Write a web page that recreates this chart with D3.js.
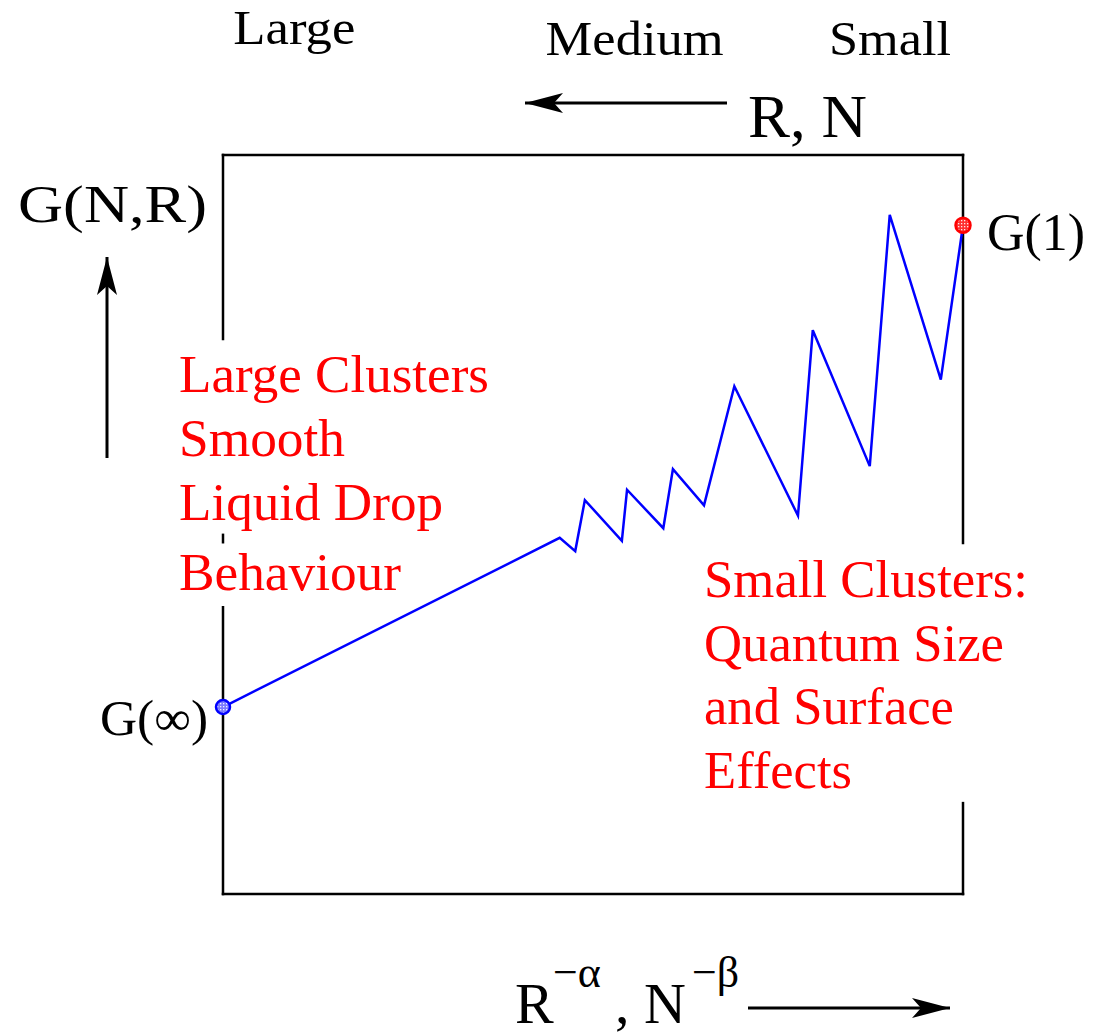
<!DOCTYPE html>
<html>
<head>
<meta charset="utf-8">
<script src="https://cdn.jsdelivr.net/npm/d3@7"></script>
<style>
  html, body { margin: 0; padding: 0; background: #fff; }
  svg { display: block; }
  text { font-family: "Liberation Serif", "Times New Roman", serif; }
</style>
</head>
<body>
<svg id="chart" width="1096" height="1035"></svg>
<script>
// Scaling variable x = R^-alpha / N^-beta (0 = infinite cluster, 100 = single atom)
const sizeX = [0, 45.5, 47.6, 48.9, 53.9, 54.6, 59.5, 60.8, 65.0, 69.1, 77.7, 79.7, 87.4, 90.1, 97.0, 100];
// Property G(N,R) along the size axis
const propG = [25.3, 48.2, 46.4, 53.3, 47.8, 54.7, 49.5, 57.5, 52.6, 68.7, 51.2, 76.3, 57.9, 91.9, 69.6, 90.5];

// Size regime labels on the top
const regimeLabels = ["Large", "Medium", "Small"];
const regimeX = [1.4, 43.6, 81.9];

const largeNotes = ["Large Clusters", "Smooth", "Liquid Drop", "Behaviour"];
const smallNotes = ["Small Clusters:", "Quantum Size", "and Surface", "Effects"];

const svg = d3.select("#chart");
const x = d3.scaleLinear().domain([0, 100]).range([223, 963]);
const y = d3.scaleLinear().domain([0, 100]).range([894, 155]);

// Arrow heads
const defs = svg.append("defs");
defs.append("marker")
  .attr("id", "head")
  .attr("viewBox", "0 0 38 20")
  .attr("refX", 38).attr("refY", 10)
  .attr("markerWidth", 38).attr("markerHeight", 20)
  .attr("markerUnits", "userSpaceOnUse")
  .attr("orient", "auto")
  .append("path")
  .attr("d", "M0,0 L38,10 L0,20 L9,10 Z")
  .attr("fill", "#000");

// Dotted fills for the end-point markers
function dotPattern(id, bg, dot) {
  const p = defs.append("pattern")
    .attr("id", id).attr("patternUnits", "userSpaceOnUse")
    .attr("width", 3).attr("height", 3);
  p.append("rect").attr("width", 3).attr("height", 3).attr("fill", bg);
  p.append("rect").attr("x", 1).attr("y", 1).attr("width", 1.3).attr("height", 1.3).attr("fill", dot);
}
dotPattern("dotsBlue", "#7a7aff", "#f0f0ff");
dotPattern("dotsRed", "#ff3030", "#ffe8e8");

// Frame: left and right sides are broken where the notes sit
const frame = [
  [[0, 100], [100, 100]],
  [[0, 0], [100, 0]],
  [[0, 100], [0, 75.1]],
  [[0, 48.6], [0, 47.6]],
  [[0, 38.8], [0, 0]],
  [[100, 100], [100, 47.5]],
  [[100, 12.3], [100, 0]]
];
svg.append("g").selectAll("line").data(frame).join("line")
  .attr("x1", d => x(d[0][0])).attr("y1", d => y(d[0][1]))
  .attr("x2", d => x(d[1][0])).attr("y2", d => y(d[1][1]))
  .attr("stroke", "#000").attr("stroke-width", 2.5)
  .attr("stroke-linecap", "square");

// The property curve
const pts = sizeX.map((v, i) => [v, propG[i]]);
svg.append("path")
  .datum(pts)
  .attr("d", d3.line().x(d => x(d[0])).y(d => y(d[1])))
  .attr("fill", "none")
  .attr("stroke", "#0000ff")
  .attr("stroke-width", 2.5)
  .attr("stroke-linejoin", "miter");

// End points G(inf) and G(1)
svg.append("circle")
  .attr("cx", x(sizeX[0])).attr("cy", y(propG[0])).attr("r", 7)
  .attr("fill", "url(#dotsBlue)").attr("stroke", "#0000ff").attr("stroke-width", 2.5);
svg.append("circle")
  .attr("cx", x(sizeX[sizeX.length - 1])).attr("cy", y(propG[propG.length - 1])).attr("r", 7.5)
  .attr("fill", "url(#dotsRed)").attr("stroke", "#ff0000").attr("stroke-width", 2.5);

// Text helper: fixed width to follow the wide serif lettering
function label(str, px, py, size, width, color) {
  const t = svg.append("text")
    .attr("x", px).attr("y", py)
    .attr("font-size", size)
    .attr("fill", color || "#000")
    .text(str);
  if (width) t.attr("textLength", width).attr("lengthAdjust", "spacingAndGlyphs");
  return t;
}

// Size regime labels
const regimeBase = [44, 55, 55];
const regimeW = [122, 178, 122];
regimeLabels.forEach((s, i) => label(s, x(regimeX[i]), regimeBase[i], 49, regimeW[i]));

// R, N with arrow pointing to larger sizes
label("R, N", 748, 137, 61, 119);
svg.append("line")
  .attr("x1", 727).attr("y1", 103).attr("x2", 525).attr("y2", 103)
  .attr("stroke", "#000").attr("stroke-width", 3)
  .attr("marker-end", "url(#head)");

// Vertical axis title with up arrow
label("G(N,R)", 18, 222, 52, 189);
svg.append("line")
  .attr("x1", 107).attr("y1", 458).attr("x2", 107).attr("y2", 257)
  .attr("stroke", "#000").attr("stroke-width", 3)
  .attr("marker-end", "url(#head)");

// Horizontal axis title with right arrow
const xt = svg.append("text").attr("x", 515).attr("y", 1023).attr("font-size", 58);
xt.append("tspan").text("R");
xt.append("tspan").attr("x", 553).attr("y", 987).attr("font-size", 44).text("\u2212\u03b1");
xt.append("tspan").attr("x", 615).attr("y", 1023).text(", N");
xt.append("tspan").attr("x", 692).attr("y", 987).attr("font-size", 44).text("\u2212\u03b2");
svg.append("line")
  .attr("x1", 748).attr("y1", 1008).attr("x2", 950).attr("y2", 1008)
  .attr("stroke", "#000").attr("stroke-width", 3)
  .attr("marker-end", "url(#head)");

// End point labels
label("G(1)", 987, 250, 52, 98);
label("G(\u221e)", 100, 735, 50, 108);

// Regime notes in red
const largeBase = [392, 456, 520, 590];
const largeW = [310, 166, 264, 222];
largeNotes.forEach((s, i) => label(s, 179, largeBase[i], 53, largeW[i], "#ff0000"));
const smallBase = [597, 661, 724, 788];
const smallW = [324, 300, 250, 148];
smallNotes.forEach((s, i) => label(s, 704, smallBase[i], 53, smallW[i], "#ff0000"));
</script>
</body>
</html>
